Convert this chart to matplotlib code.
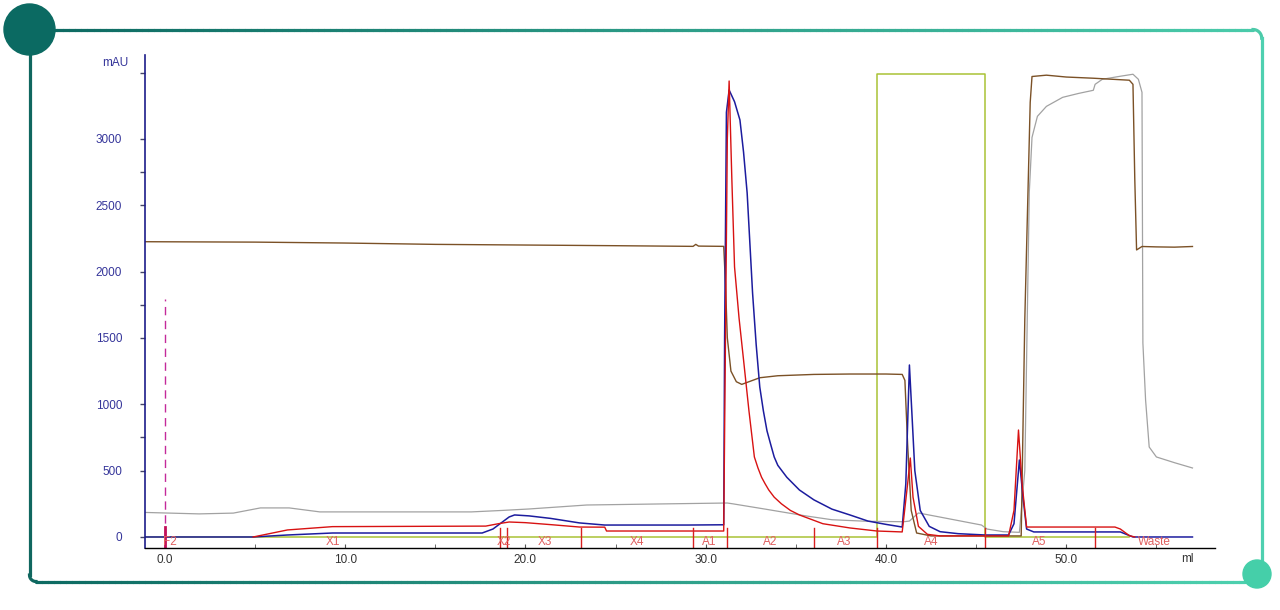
import numpy as np
import matplotlib
matplotlib.use('Agg')
import matplotlib.pyplot as plt
from matplotlib.patches import Circle
from matplotlib.collections import LineCollection
from matplotlib.colors import to_rgb

plt.rcParams['font.family'] = ['Liberation Sans', 'DejaVu Sans']

# ---- trace data (ml, mAU) ----
uv1_ml = [-1.1, 4.9, 6.8, 9.3, 17.6, 18.2, 19.1, 19.4, 20.2, 21.4, 23.0, 24.4, 29.0, 31.0,
          31.05, 31.15, 31.3, 31.6, 31.9, 32.1, 32.3, 32.6, 32.8, 33.0, 33.2, 33.4, 33.6,
          33.8, 34.0, 34.5, 35.2, 36.0, 37.0, 38.0, 39.0, 40.0, 40.9, 41.1, 41.3, 41.45,
          41.6, 41.9, 42.4, 43.0, 44.0, 45.5, 46.8, 47.1, 47.4, 47.6, 47.8, 48.2, 53.0,
          53.7, 57.0]
uv1_mau = [0, 0, 15, 30, 30, 60, 151, 166, 159, 140, 106, 90, 90, 92,
           1500, 3200, 3368, 3280, 3142, 2900, 2592, 1839, 1450, 1130, 950, 800, 700,
           603, 540, 450, 354, 280, 210, 166, 120, 95, 75, 400, 1296, 900,
           500, 200, 80, 40, 25, 15, 15, 100, 580, 300, 60, 38, 38,
           0, 0]

uv2_ml = [4.9, 6.8, 9.3, 17.8, 18.5, 19.1, 20.0, 21.5, 23.0, 24.4, 24.5, 31.0,
          31.05, 31.2, 31.3, 31.45, 31.6, 31.85, 32.1, 32.4, 32.7, 32.9, 33.1, 33.3,
          33.5, 33.8, 34.2, 34.7, 35.2, 36.5, 38.0, 39.5, 40.9, 41.2, 41.35, 41.5,
          41.8, 42.3, 43.0, 46.8, 47.1, 47.35, 47.55, 47.8, 52.7, 53.0, 53.5, 53.8]
uv2_mau = [0, 53, 78, 82, 100, 113, 108, 92, 75, 74, 45, 45,
           800, 3000, 3436, 2700, 2035, 1650, 1334, 950, 603, 520, 450, 400,
           354, 300, 250, 200, 166, 100, 68, 45, 38, 400, 595, 300,
           80, 20, 8, 8, 200, 806, 400, 75, 75, 60, 10, 0]

cond_ml = [-1.1, 5, 10, 15, 20, 25, 29.3, 29.45, 29.6, 31.0, 31.1, 31.2, 31.4, 31.7,
           32.0, 32.3, 33.0, 34.0, 36.0, 38.0, 40.0, 40.9, 41.05, 41.2, 41.4, 41.7,
           42.5, 47.5, 47.7, 48.0, 48.1, 48.9, 50.0, 51.5, 53.5, 53.7, 53.8, 53.9,
           54.2, 55.0, 56.0, 57.0]
cond_mau = [2225, 2222, 2215, 2205, 2200, 2195, 2190, 2205, 2192, 2190, 1900, 1500, 1250, 1170,
            1150, 1165, 1200, 1215, 1225, 1228, 1228, 1225, 1180, 700, 200, 30,
            8, 8, 1638, 3275, 3470, 3480, 3466, 3457, 3442, 3411, 2700, 2163,
            2189, 2186, 2184, 2189]

conc_ml = [-1.1, 1.9, 3.8, 5.3, 6.9, 8.6, 14.9, 17.0, 18.7, 20.2, 23.4, 28.0, 31.2,
           31.5, 33.3, 35.5, 37.0, 39.0, 41.0, 41.3, 41.8, 43.0, 45.3, 45.6, 46.5,
           47.4, 47.7, 47.95, 48.1, 48.4, 48.9, 49.8, 50.7, 51.5, 51.6, 52.0, 53.0,
           53.7, 54.0, 54.2, 54.25, 54.4, 54.6, 55.0, 56.0, 57.0]
conc_mau = [185, 174, 180, 219, 219, 189, 189, 189, 200, 211, 241, 250, 256,
            250, 210, 160, 130, 118, 115, 120, 181, 150, 90, 60, 40,
            35, 500, 2600, 3011, 3170, 3245, 3313, 3343, 3366, 3411, 3449, 3472,
            3487, 3449, 3351, 1462, 1032, 678, 603, 560, 520]

inject_ml = [-1.1, 39.5, 39.5, 45.5, 45.5, 53.5]
inject_mau = [0, 0, 3487, 3487, 0, 0]

frac_edges = [18.6, 19.0, 23.1, 29.3, 31.2, 36.0, 39.5, 45.5, 51.6]
frac_names = ['F2', 'X1', 'X2', 'X3', 'X4', 'A1', 'A2', 'A3', 'A4', 'A5', 'Waste']
frac_label_ml = [0.3, 9.3, 18.8, 21.1, 26.2, 30.2, 33.6, 37.7, 42.5, 48.5, 54.9]

x_ticks = [0, 10, 20, 30, 40, 50]
y_ticks = [0, 500, 1000, 1500, 2000, 2500, 3000]
y_minor = [750, 1750, 2750, 3500]

W, H = 1280, 610
fig = plt.figure(figsize=(12.8, 6.1), dpi=100, facecolor='white')

# ---- decorative frame ----
deco = fig.add_axes([0, 0, 1, 1], zorder=0)
deco.set_xlim(0, W)
deco.set_ylim(H, 0)
deco.axis('off')

dark = np.array(to_rgb('#0d6a62'))
light = np.array(to_rgb('#4dd0ae'))


def grad_line(xs, ys, c0, c1, lw=2.3):
    xs = np.asarray(xs, float)
    ys = np.asarray(ys, float)
    pts = np.column_stack([xs, ys]).reshape(-1, 1, 2)
    segs = np.concatenate([pts[:-1], pts[1:]], axis=1)
    t = np.linspace(0, 1, len(segs))[:, None]
    cols = c0 * (1 - t) + c1 * t
    deco.add_collection(LineCollection(segs, colors=cols, linewidths=lw, capstyle='round'))


n = 200
# top edge with rounded top-right corner
grad_line(np.linspace(45, 1253, n), np.full(n, 29.5), dark, light * 0.95 + dark * 0.05)
ang = np.linspace(-np.pi / 2, 0, 20)
deco.plot(1253 + 8.7 * np.cos(ang), 38.2 + 8.7 * np.sin(ang), color='#4ccaa9', lw=2.3)
deco.plot([1261.7, 1261.7], [38, 562], color='#4fd0b0', lw=2.3)
# left edge and bottom edge
deco.plot([29.5, 29.5], [50, 575], color='#10675f', lw=2.3)
ang = np.linspace(np.pi / 2, np.pi, 20)
deco.plot(36 + 6.5 * np.cos(ang), 575 + 6.5 * np.sin(ang), color='#10675f', lw=2.3)
grad_line(np.linspace(36, 1245, n), np.full(n, 581.5), dark, light)
deco.add_patch(Circle((29.5, 29.5), 25.5, color='#0b6a62', zorder=3))
deco.add_patch(Circle((1257, 574), 14, color='#45cfa9', zorder=3))

# ---- chromatogram ----
ax = fig.add_axes([145 / W, 1 - 548 / H, (1215 - 145) / W, (548 - 55) / H], zorder=1)
ax.set_facecolor('none')
ax.set_xlim(-1.1, 58.25)
ax.set_ylim(-83, 3632)

ax.plot(inject_ml, inject_mau, color='#a9c235', lw=1.1)
ax.plot(conc_ml, conc_mau, color='#a2a2a2', lw=0.9)
ax.plot(cond_ml, cond_mau, color='#7b5126', lw=1.0)
ax.plot(uv1_ml, uv1_mau, color='#1c1c9e', lw=1.1)
ax.plot(uv2_ml, uv2_mau, color='#d81212', lw=1.0)

# injection mark F2
ax.plot([0, 0], [0, 1790], color='#c42a9a', lw=1.0, linestyle=(0, (6, 4)))
ax.plot([0, 0], [-83, 75], color='#c2105a', lw=2.0)

# fraction marks and labels
for e in frac_edges:
    ax.plot([e, e], [-83, 68], color='#d82020', lw=1.0)
for name, xm in zip(frac_names, frac_label_ml):
    ax.text(xm, -40, name, color='#e06060', fontsize=8.5, ha='center', va='center')

for s in ['top', 'right']:
    ax.spines[s].set_visible(False)
ax.spines['left'].set_color('#1c1c8a')
ax.spines['left'].set_linewidth(1.2)
ax.spines['bottom'].set_color('black')
ax.spines['bottom'].set_linewidth(1.0)

ax.set_xticks(x_ticks)
ax.set_xticklabels(['%.1f' % v for v in x_ticks])
ax.set_xticks(np.arange(5, 56, 10), minor=True)
ax.tick_params(axis='x', which='both', direction='in', length=3, pad=4,
               labelsize=8.5, labelcolor='#333333', color='#555555')
ax.set_yticks(y_ticks)
ax.set_yticks(y_minor, minor=True)
ax.tick_params(axis='y', which='both', direction='out', length=3.5, width=1,
               pad=13, labelsize=8.5, labelcolor='#35359a', color='#444466')

fig.text(115 / W, 1 - 63 / H, 'mAU', color='#35359a', fontsize=8.5, ha='center', va='center')
fig.text(1187 / W, 1 - 559 / H, 'ml', color='#333333', fontsize=8.5, ha='center', va='center')

fig.savefig('out.png', dpi=100, facecolor='white')
